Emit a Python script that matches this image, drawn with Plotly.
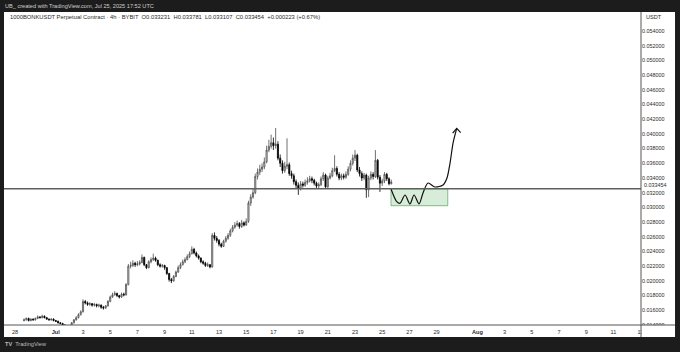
import pandas as pd
import plotly.graph_objects as go

# ---------------- data ----------------
candle_start = "2025-06-28 16:00"
candle_freq = "4h"

opens = [
    0.0146, 0.0147, 0.0149, 0.0146, 0.0148, 0.0147,
    0.0149, 0.0151, 0.0150, 0.0152,
    0.0150, 0.0148, 0.0147, 0.0148,
    0.0146, 0.0145, 0.0143, 0.0142,
    0.0140, 0.0138, 0.0136, 0.0139,
    0.0143, 0.0147, 0.0150, 0.0154,
    0.0158, 0.0172, 0.0170,
    0.0168, 0.0169, 0.0167, 0.0168, 0.0166,
    0.0167, 0.0164, 0.0163,
    0.0166, 0.0172, 0.0178,
    0.0181, 0.0183, 0.0180, 0.0178,
    0.0182, 0.0181,
    0.0195, 0.0220, 0.0221, 0.0224, 0.0222, 0.0223,
    0.0225,
    0.0232, 0.0222,
    0.0218, 0.0226, 0.0229, 0.0231,
    0.0228, 0.0222, 0.0220, 0.0221,
    0.0218, 0.0210, 0.0202,
    0.0200, 0.0206, 0.0212, 0.0218,
    0.0222, 0.0226, 0.0229, 0.0233,
    0.0237,
    0.0243, 0.0238, 0.0234,
    0.0231, 0.0226, 0.0224, 0.0221, 0.0222,
    0.0219,
    0.0262, 0.0258, 0.0255, 0.0250,
    0.0247, 0.0254, 0.0258,
    0.0262, 0.0268, 0.0273, 0.0276,
    0.0278, 0.0274, 0.0279, 0.0276,
    0.0281, 0.0306, 0.0314,
    0.0320, 0.0342, 0.0348,
    0.0352, 0.0355, 0.0362,
    0.0378, 0.0383, 0.0388,
    0.0384, 0.0386,
    0.0367, 0.0360, 0.0350, 0.0356,
    0.0358, 0.0346,
    0.0343, 0.0335, 0.0330,
    0.0326, 0.0332, 0.0330,
    0.0334, 0.0336, 0.0339,
    0.0337, 0.0333, 0.0329,
    0.0331, 0.0339, 0.0344,
    0.0328, 0.0340, 0.0343, 0.0350,
    0.0353, 0.0345, 0.0340, 0.0343, 0.0341,
    0.0345, 0.0352, 0.0360, 0.0367,
    0.0371, 0.0351, 0.0346, 0.0340,
    0.0344, 0.0324, 0.0340, 0.0345,
    0.0342, 0.0364, 0.0341, 0.0333,
    0.0336, 0.0345, 0.0339, 0.033231,
]
highs = [
    0.0149, 0.0150, 0.0150, 0.0149, 0.0149, 0.0150,
    0.0153, 0.0152, 0.0154, 0.0153,
    0.0151, 0.0149, 0.0149, 0.0149,
    0.0147, 0.0146, 0.0144, 0.0143,
    0.0141, 0.0139, 0.0140, 0.0144,
    0.0148, 0.0152, 0.0156, 0.0160,
    0.0175, 0.0174, 0.0172,
    0.0171, 0.0170, 0.0170, 0.0169, 0.0169,
    0.0168, 0.0166, 0.0167,
    0.0174, 0.0180, 0.0184,
    0.0186, 0.0184, 0.0181, 0.0184,
    0.0184, 0.0197,
    0.0223, 0.0226, 0.0228, 0.0226, 0.0227, 0.0228,
    0.0236,
    0.0233, 0.0223,
    0.0228, 0.0232, 0.0237, 0.0233,
    0.0229, 0.0224, 0.0223, 0.0222,
    0.0219, 0.0211, 0.0204,
    0.0208, 0.0214, 0.0221, 0.0225,
    0.0229, 0.0232, 0.0236, 0.0240,
    0.0247,
    0.0245, 0.0240, 0.0236,
    0.0232, 0.0228, 0.0226, 0.0225, 0.0223,
    0.0265,
    0.0266, 0.0261, 0.0257, 0.0252,
    0.0256, 0.0261, 0.0265,
    0.0271, 0.0276, 0.0280, 0.0282,
    0.0280, 0.0283, 0.0281, 0.0285,
    0.0309, 0.0318, 0.0325,
    0.0346, 0.0353, 0.0358,
    0.0360, 0.0368, 0.0384,
    0.0392, 0.0399, 0.0395,
    0.0408, 0.0390,
    0.0372, 0.0364, 0.0362, 0.0394,
    0.0361, 0.0350,
    0.0346, 0.0338, 0.0334,
    0.0336, 0.0335, 0.0338,
    0.0341, 0.0343, 0.0342,
    0.0339, 0.0335, 0.0334,
    0.0342, 0.0348, 0.0346,
    0.0343, 0.0347, 0.0354, 0.0371,
    0.0356, 0.0348, 0.0346, 0.0346, 0.0349,
    0.0356, 0.0364, 0.0372, 0.0378,
    0.0373, 0.0355, 0.0349, 0.0347,
    0.0346, 0.0343, 0.0349, 0.0348,
    0.0378, 0.0366, 0.0344, 0.0339,
    0.0348, 0.0347, 0.0341, 0.033781,
]
lows = [
    0.0145, 0.0146, 0.0145, 0.0145, 0.0146, 0.0146,
    0.0148, 0.0149, 0.0149, 0.0149,
    0.0147, 0.0146, 0.0146, 0.0145,
    0.0144, 0.0142, 0.0141, 0.0139,
    0.0137, 0.0135, 0.0135, 0.0138,
    0.0142, 0.0146, 0.0149, 0.0153,
    0.0157, 0.0168, 0.0166,
    0.0166, 0.0165, 0.0165, 0.0164, 0.0164,
    0.0162, 0.0161, 0.0162,
    0.0165, 0.0171, 0.0177,
    0.0180, 0.0178, 0.0176, 0.0177,
    0.0179, 0.0180,
    0.0194, 0.0217, 0.0219, 0.0219, 0.0220, 0.0221,
    0.0224,
    0.0220, 0.0216,
    0.0217, 0.0224, 0.0227, 0.0226,
    0.0220, 0.0218, 0.0218, 0.0215,
    0.0208, 0.0199, 0.0197,
    0.0199, 0.0205, 0.0211, 0.0216,
    0.0221, 0.0224, 0.0228, 0.0231,
    0.0236,
    0.0236, 0.0232, 0.0229,
    0.0224, 0.0222, 0.0219, 0.0219, 0.0217,
    0.0218,
    0.0255, 0.0252, 0.0247, 0.0245,
    0.0246, 0.0252, 0.0256,
    0.0260, 0.0266, 0.0271, 0.0274,
    0.0271, 0.0272, 0.0274, 0.0275,
    0.0279, 0.0302, 0.0312,
    0.0318, 0.0338, 0.0344,
    0.0348, 0.0352, 0.0360,
    0.0375, 0.0380, 0.0378,
    0.0380, 0.0364,
    0.0355, 0.0346, 0.0347, 0.0352,
    0.0343, 0.0339,
    0.0331, 0.0326, 0.0317,
    0.0323, 0.0327, 0.0328,
    0.0331, 0.0334, 0.0333,
    0.0330, 0.0326, 0.0326,
    0.0329, 0.0336, 0.0325,
    0.0326, 0.0338, 0.0341, 0.0348,
    0.0342, 0.0337, 0.0337, 0.0338, 0.0339,
    0.0343, 0.0349, 0.0357, 0.0363,
    0.0348, 0.0342, 0.0336, 0.0337,
    0.0313, 0.0314, 0.0337, 0.0338,
    0.0340, 0.0338, 0.0321, 0.0329,
    0.0333, 0.0336, 0.0330, 0.033107,
]
closes = [
    0.0147, 0.0149, 0.0146, 0.0148, 0.0147, 0.0149,
    0.0151, 0.0150, 0.0152, 0.0150,
    0.0148, 0.0147, 0.0148, 0.0146,
    0.0145, 0.0143, 0.0142, 0.0140,
    0.0138, 0.0136, 0.0139, 0.0143,
    0.0147, 0.0150, 0.0154, 0.0158,
    0.0172, 0.0170, 0.0168,
    0.0169, 0.0167, 0.0168, 0.0166, 0.0167,
    0.0164, 0.0163, 0.0166,
    0.0172, 0.0178, 0.0181,
    0.0183, 0.0180, 0.0178, 0.0182,
    0.0181, 0.0195,
    0.0220, 0.0221, 0.0224, 0.0222, 0.0223, 0.0225,
    0.0232,
    0.0222, 0.0218,
    0.0226, 0.0229, 0.0231, 0.0228,
    0.0222, 0.0220, 0.0221, 0.0218,
    0.0210, 0.0202, 0.0200,
    0.0206, 0.0212, 0.0218, 0.0222,
    0.0226, 0.0229, 0.0233, 0.0237,
    0.0243,
    0.0238, 0.0234, 0.0231,
    0.0226, 0.0224, 0.0221, 0.0222, 0.0219,
    0.0262,
    0.0258, 0.0255, 0.0250, 0.0247,
    0.0254, 0.0258, 0.0262,
    0.0268, 0.0273, 0.0276, 0.0278,
    0.0274, 0.0279, 0.0276, 0.0281,
    0.0306, 0.0314, 0.0320,
    0.0342, 0.0348, 0.0352,
    0.0355, 0.0362, 0.0378,
    0.0383, 0.0388, 0.0384,
    0.0386, 0.0367,
    0.0360, 0.0350, 0.0356, 0.0358,
    0.0346, 0.0343,
    0.0335, 0.0330, 0.0326,
    0.0332, 0.0330, 0.0334,
    0.0336, 0.0339, 0.0337,
    0.0333, 0.0329, 0.0331,
    0.0339, 0.0344, 0.0328,
    0.0340, 0.0343, 0.0350, 0.0353,
    0.0345, 0.0340, 0.0343, 0.0341, 0.0345,
    0.0352, 0.0360, 0.0367, 0.0371,
    0.0351, 0.0346, 0.0340, 0.0344,
    0.0324, 0.0340, 0.0345, 0.0342,
    0.0364, 0.0341, 0.0333, 0.0336,
    0.0345, 0.0339, 0.033231, 0.033454,
]

x_range = ["2025-06-27 04:35", "2025-08-13 00:42"]
date_ticks = ["2025-06-28", "2025-07-01", "2025-07-03", "2025-07-05", "2025-07-07",
              "2025-07-09", "2025-07-11", "2025-07-13", "2025-07-15", "2025-07-17",
              "2025-07-19", "2025-07-21", "2025-07-23", "2025-07-25", "2025-07-27",
              "2025-07-29", "2025-08-01", "2025-08-03", "2025-08-05", "2025-08-07",
              "2025-08-09", "2025-08-11", "2025-08-13"]
date_labels = ["28", "<b>Jul</b>", "3", "5", "7", "9", "11", "13", "15", "17", "19", "21",
               "23", "25", "27", "29", "<b>Aug</b>", "3", "5", "7", "9", "11", "13"]

y_range = [0.014, 0.056585]
price_ticks = [0.014, 0.016, 0.018, 0.020, 0.022, 0.024, 0.026, 0.028, 0.030, 0.032,
               0.034, 0.036, 0.038, 0.040, 0.042, 0.044, 0.046, 0.048, 0.050, 0.052, 0.054]
last_price = 0.033454

support_level = 0.03254
box_start, box_end = "2025-07-25 15:30", "2025-07-29 19:40"
box_low, box_high = 0.03023, 0.03254

path_times = ["2025-07-25 15:32", "2025-07-26 01:40", "2025-07-26 07:20", "2025-07-26 16:15",
              "2025-07-27 01:00", "2025-07-27 08:10", "2025-07-27 17:00", "2025-07-28 00:00",
              "2025-07-28 08:50", "2025-07-28 21:10", "2025-07-29 11:20", "2025-07-29 18:20",
              "2025-07-29 23:45", "2025-07-30 05:00", "2025-07-30 11:30"]
path_prices = [0.03250, 0.03078, 0.03056, 0.03169, 0.03046, 0.03169, 0.03046, 0.03196,
               0.03332, 0.03278, 0.03305, 0.03400, 0.03604, 0.03876, 0.04076]
arrow_times = ["2025-07-30 04:20", "2025-07-30 11:30", "2025-07-30 18:30"]
arrow_prices = [0.04012, 0.04076, 0.04016]

title_text = ("1000BONKUSDT Perpetual Contract · 4h · BYBIT  O0.033231  H0.033781  "
              "L0.033107  C0.033454  +0.000223 (+0.67%)")
credit_text = "UB_ created with TradingView.com, Jul 25, 2025 17:52 UTC"

# ---------------- figure ----------------
times = pd.date_range(candle_start, periods=len(closes), freq=candle_freq)
FONT = "Liberation Sans, Arial, sans-serif"
DARK = "#1c1c1c"

fig = go.Figure()
fig.add_trace(go.Candlestick(
    x=times, open=opens, high=highs, low=lows, close=closes,
    increasing=dict(fillcolor="#e6e6e6", line=dict(color="#4d4d4d", width=0.8)),
    decreasing=dict(fillcolor="#000000", line=dict(color="#000000", width=0.8)),
    hoverinfo="skip", showlegend=False,
))
fig.add_trace(go.Scatter(
    x=path_times, y=path_prices, mode="lines",
    line=dict(color="#111111", width=1.2, shape="spline", smoothing=0.8),
    hoverinfo="skip", showlegend=False,
))
fig.add_trace(go.Scatter(
    x=arrow_times, y=arrow_prices, mode="lines",
    line=dict(color="#111111", width=1.2),
    hoverinfo="skip", showlegend=False,
))

shapes = [
    # white chart canvas
    dict(type="rect", xref="paper", yref="paper", x0=0, x1=1.0534, y0=-0.0383, y1=1,
         fillcolor="#ffffff", line=dict(width=0), layer="below"),
    # green box
    dict(type="rect", xref="x", yref="y", x0=box_start, x1=box_end, y0=box_low, y1=box_high,
         fillcolor="rgba(76,175,80,0.22)", line=dict(color="rgba(76,160,80,0.65)", width=1),
         layer="below"),
    # support line
    dict(type="line", xref="paper", yref="y", x0=0, x1=1, y0=support_level, y1=support_level,
         line=dict(color="#5f5f5f", width=1.6)),
    # cover the clipped bottom-right corner
    dict(type="rect", xref="paper", yref="paper", x0=1.0008, x1=1.0534, y0=-0.0383, y1=-0.0005,
         fillcolor="#ffffff", line=dict(width=0), layer="above"),
    # time axis line
    dict(type="line", xref="paper", yref="paper", x0=0, x1=1.0534, y0=0, y1=0,
         line=dict(color="#555555", width=1), layer="above"),
    # price axis separator
    dict(type="line", xref="paper", yref="paper", x0=1, x1=1, y0=-0.0383, y1=1,
         line=dict(color="#555555", width=1), layer="above"),
]

annotations = [
    dict(text=credit_text, xref="paper", yref="paper", x=-0.0015, y=1.0192,
         xanchor="left", yanchor="middle", showarrow=False,
         font=dict(family=FONT, size=5.6, color="#cfcfcf")),
    dict(text=title_text, xref="paper", yref="paper", x=0.0063, y=0.984,
         xanchor="left", yanchor="middle", showarrow=False,
         font=dict(family=FONT, size=5.8, color="#2a2a2a")),
    dict(text="USDT", xref="paper", yref="paper", x=1.0, xshift=3, y=0.984,
         xanchor="left", yanchor="middle", showarrow=False,
         font=dict(family=FONT, size=5.6, color="#2a2a2a")),
    dict(text=f"{last_price:.6f}", xref="paper", yref="y", x=1.0, xshift=2, y=last_price,
         yshift=-2.5, xanchor="left", yanchor="middle", showarrow=False,
         bgcolor="#ffffff", borderpad=0,
         font=dict(family=FONT, size=5.4, color="#2a2a2a")),
    dict(text="<b>TV</b>  TradingView", xref="paper", yref="paper", x=-0.0015, y=-0.0607,
         xanchor="left", yanchor="middle", showarrow=False,
         font=dict(family=FONT, size=5.6, color="#bdbdbd")),
]

fig.update_layout(
    width=680, height=352,
    margin=dict(l=4, r=39, t=12, b=27, pad=0),
    paper_bgcolor=DARK, plot_bgcolor="#ffffff",
    showlegend=False,
    shapes=shapes, annotations=annotations,
    xaxis=dict(
        type="date", range=x_range, rangeslider=dict(visible=False),
        tickmode="array", tickvals=date_ticks, ticktext=date_labels,
        showgrid=False, zeroline=False, showline=False, ticks="",
        ticklabelstandoff=2,
        tickfont=dict(family=FONT, size=5.6, color="#2a2a2a"),
    ),
    yaxis=dict(
        side="right", range=y_range, tickmode="array", tickvals=price_ticks,
        tickformat=".6f", showgrid=False, zeroline=False, showline=False, ticks="",
        tickfont=dict(family=FONT, size=5.4, color="#2a2a2a"),
    ),
)

fig.write_html("out.html")
